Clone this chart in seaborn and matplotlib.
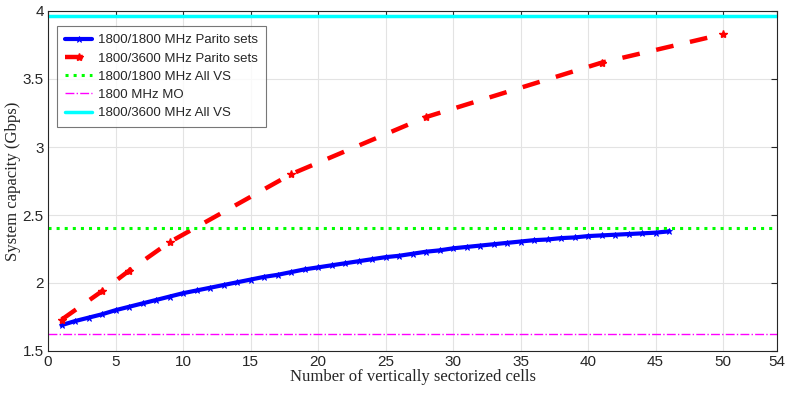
import matplotlib
matplotlib.use("Agg")
import matplotlib.pyplot as plt
import seaborn as sns
import pandas as pd

# Data
blue_x = list(range(1, 47))
blue_y = [1.69, 1.72, 1.745, 1.77, 1.80, 1.825, 1.85, 1.875, 1.90, 1.925,
          1.945, 1.965, 1.985, 2.005, 2.025, 2.045, 2.06, 2.08, 2.10, 2.115,
          2.13, 2.145, 2.16, 2.175, 2.19, 2.20, 2.215, 2.23, 2.24, 2.255,
          2.265, 2.275, 2.285, 2.295, 2.305, 2.315, 2.32, 2.33, 2.335, 2.345,
          2.35, 2.355, 2.36, 2.365, 2.37, 2.38]
red_x = [1, 4, 6, 9, 18, 28, 41, 50]
red_y = [1.73, 1.94, 2.09, 2.30, 2.80, 3.22, 3.62, 3.83]
all_vs_1800 = 2.407
mo_1800 = 1.628
all_vs_3600 = 3.965

labels = ["1800/1800 MHz Parito sets", "1800/3600 MHz Parito sets",
          "1800/1800 MHz All VS", "1800 MHz MO", "1800/3600 MHz All VS"]
x_ticks = [0, 5, 10, 15, 20, 25, 30, 35, 40, 45, 50, 54]
y_ticks = [1.5, 2, 2.5, 3, 3.5, 4]
y_tick_labels = ["1.5", "2", "2.5", "3", "3.5", "4"]

sns.set_style("white")
plt.rcParams['font.family'] = ['Liberation Sans', 'DejaVu Sans']

fig = plt.figure(figsize=(7.88, 3.94), dpi=100)
ax = fig.add_axes([48/788, 43/394, 729/788, 340/394])

df_b = pd.DataFrame({"x": blue_x, "y": blue_y})
df_r = pd.DataFrame({"x": red_x, "y": red_y})

sns.lineplot(data=df_b, x="x", y="y", ax=ax, color="#0000ff", linewidth=3,
             marker="*", markersize=5, markeredgewidth=0.6,
             markeredgecolor="#0000ff", label=labels[0])
sns.lineplot(data=df_r, x="x", y="y", ax=ax, color="#ff0000", linewidth=3.2,
             linestyle=(0, (4.0, 3.8)), marker="*", markersize=6,
             markeredgewidth=1.0, markeredgecolor="#ff0000", label=labels[1])
ax.axhline(all_vs_1800, color="#00ff00", linestyle=":", linewidth=2.2, label=labels[2])
ax.axhline(mo_1800, color="#ff00ff", linestyle="-.", linewidth=1.0, label=labels[3])
ax.axhline(all_vs_3600, color="#00ffff", linestyle="-", linewidth=2.5, label=labels[4])

ax.set_xlim(0, 54)
ax.set_ylim(1.5, 4)
ax.set_xticks(x_ticks)
ax.set_yticks(y_ticks)
ax.set_yticklabels(y_tick_labels)
ax.tick_params(direction="in", top=True, right=True, length=4, width=0.8,
               labelsize=11, colors="#262626", pad=3)
ax.grid(True, color="#e3e3e3", linewidth=0.8)
for s in ax.spines.values():
    s.set_color("#262626")
    s.set_linewidth(0.8)

ax.set_xlabel("Number of vertically sectorized cells", family="Liberation Serif",
              fontsize=12, color="#262626", labelpad=0)
ax.set_ylabel("System capacity (Gbps)", family="Liberation Serif",
              fontsize=12, color="#262626", labelpad=1)

leg = ax.legend(loc="upper left", bbox_to_anchor=(0.012, 0.955), fontsize=9.5,
                frameon=True, fancybox=False, handlelength=2.1,
                borderpad=0.6, labelspacing=0.45, handletextpad=0.4,
                borderaxespad=0.0)
leg.get_frame().set_edgecolor("#555555")
leg.get_frame().set_linewidth(0.8)

fig.savefig("out.png", dpi=100)
